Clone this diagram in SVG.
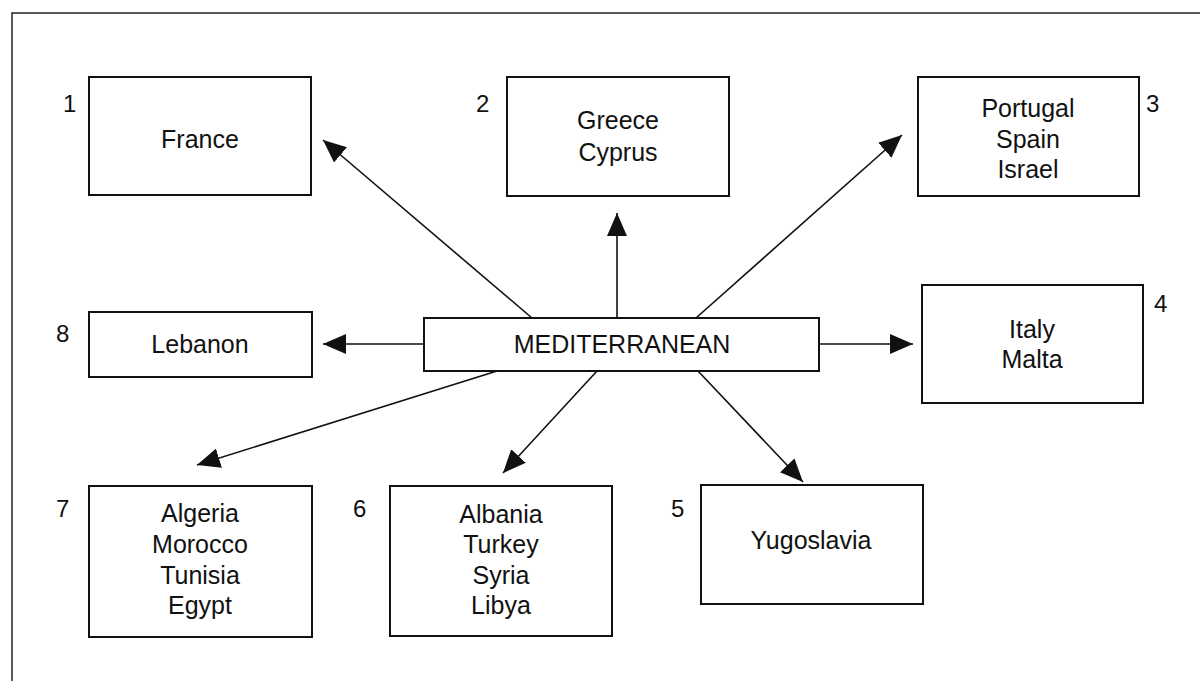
<svg xmlns="http://www.w3.org/2000/svg" width="1200" height="681" viewBox="0 0 1200 681">
<style>
.box{fill:#fff;stroke:#111;stroke-width:2}
.lbl{font-family:"Liberation Sans",Arial,sans-serif;font-size:25px;fill:#111;text-anchor:middle}
.num{font-family:"Liberation Sans",Arial,sans-serif;font-size:24px;fill:#111}
.con{stroke:#111;stroke-width:1.6;fill:none;marker-end:url(#ah)}
</style>
<defs>
<marker id="ah" markerUnits="userSpaceOnUse" markerWidth="24" markerHeight="20" refX="23" refY="10" orient="auto">
<path d="M0,0 L23,10 L0,20 Z" fill="#111"/>
</marker>
</defs>
<rect x="0" y="0" width="1200" height="681" fill="#fff"/>
<g id="frame"><path d="M12,681 L12,13 L1200,13" fill="none" stroke="#222" stroke-width="1.5"/></g>
<g id="connectors">
<line class="con" x1="532" y1="318" x2="323" y2="140"/>
<line class="con" x1="617" y1="318" x2="617" y2="213"/>
<line class="con" x1="696" y1="318" x2="902" y2="135"/>
<line class="con" x1="424" y1="344" x2="323" y2="344"/>
<line class="con" x1="819" y1="344" x2="913" y2="344"/>
<line class="con" x1="497" y1="371" x2="197" y2="465"/>
<line class="con" x1="597" y1="371" x2="503" y2="473"/>
<line class="con" x1="698" y1="371" x2="803" y2="482"/>
</g>
<g id="n-med"><rect class="box" x="424" y="318" width="395" height="53"/><text class="lbl" x="622" y="353">MEDITERRANEAN</text></g>
<g id="n1"><rect class="box" x="89" y="77" width="222" height="118"/><text class="lbl" x="200" y="148">France</text><text class="num" x="63" y="112">1</text></g>
<g id="n2"><rect class="box" x="507" y="77" width="222" height="119"/><text class="lbl" x="618" y="129">Greece</text><text class="lbl" x="618" y="161">Cyprus</text><text class="num" x="476" y="112">2</text></g>
<g id="n3"><rect class="box" x="918" y="77" width="221" height="119"/><text class="lbl" x="1028" y="117">Portugal</text><text class="lbl" x="1028" y="148">Spain</text><text class="lbl" x="1028" y="178">Israel</text><text class="num" x="1146" y="112">3</text></g>
<g id="n4"><rect class="box" x="922" y="285" width="221" height="118"/><text class="lbl" x="1032" y="338">Italy</text><text class="lbl" x="1032" y="368">Malta</text><text class="num" x="1154" y="312">4</text></g>
<g id="n5"><rect class="box" x="701" y="485" width="222" height="119"/><text class="lbl" x="811" y="549">Yugoslavia</text><text class="num" x="671" y="517">5</text></g>
<g id="n6"><rect class="box" x="390" y="486" width="222" height="150"/><text class="lbl" x="501" y="523">Albania</text><text class="lbl" x="501" y="553">Turkey</text><text class="lbl" x="501" y="584">Syria</text><text class="lbl" x="501" y="614">Libya</text><text class="num" x="353" y="517">6</text></g>
<g id="n7"><rect class="box" x="89" y="486" width="223" height="151"/><text class="lbl" x="200" y="522">Algeria</text><text class="lbl" x="200" y="553">Morocco</text><text class="lbl" x="200" y="584">Tunisia</text><text class="lbl" x="200" y="614">Egypt</text><text class="num" x="56" y="517">7</text></g>
<g id="n8"><rect class="box" x="89" y="312" width="223" height="65"/><text class="lbl" x="200" y="353">Lebanon</text><text class="num" x="56" y="342">8</text></g>
</svg>
